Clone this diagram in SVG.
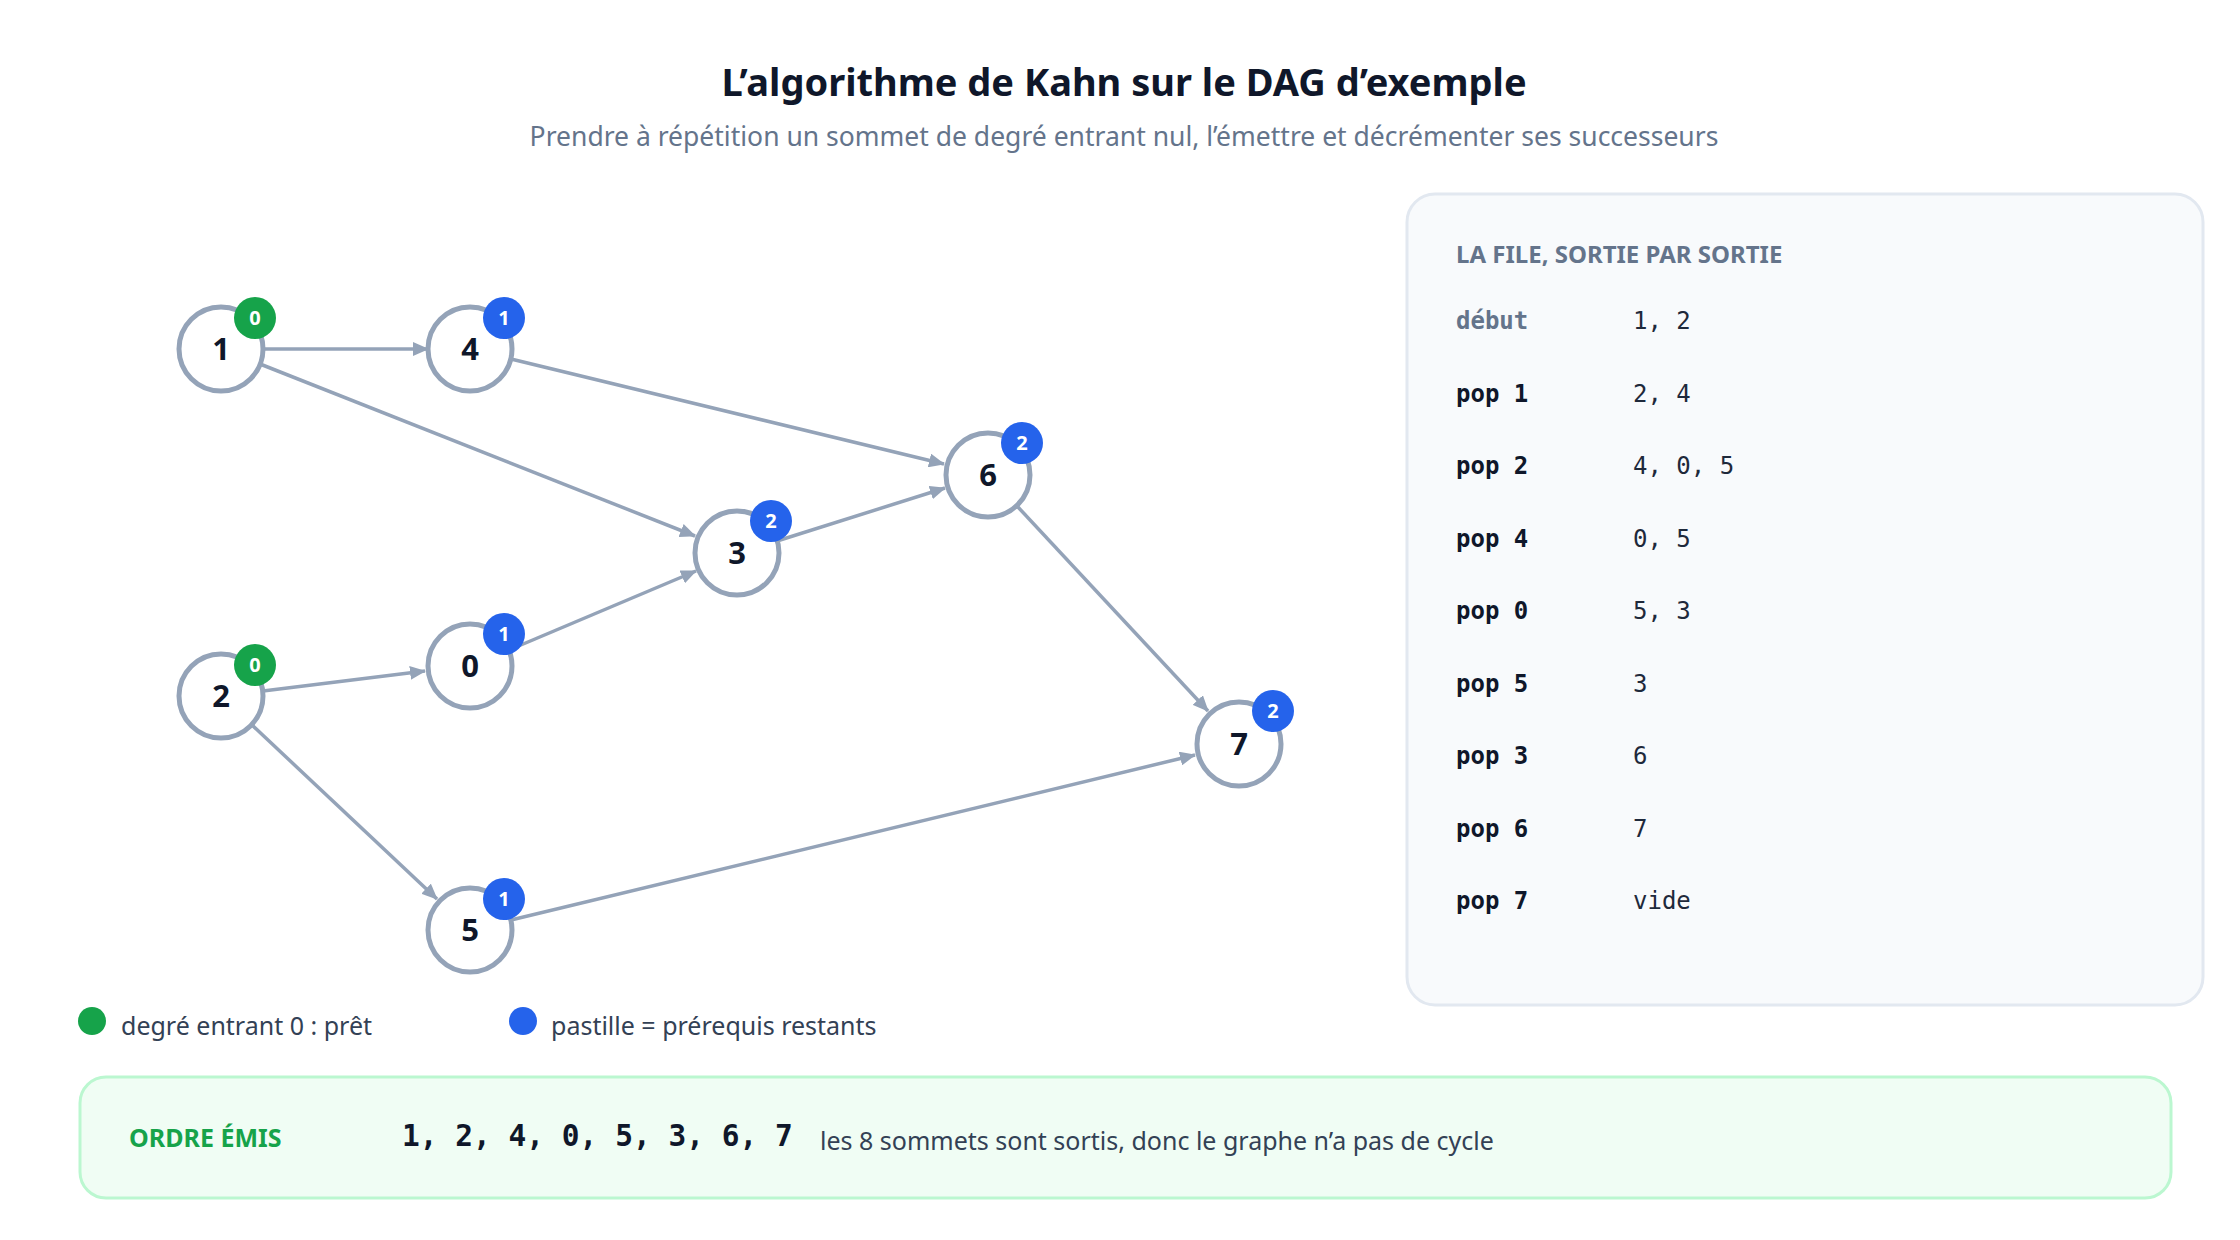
<svg xmlns="http://www.w3.org/2000/svg" width="2240" height="1240" viewBox="0 0 2240 1240">
<defs>
<marker id="ah" markerUnits="userSpaceOnUse" markerWidth="16" markerHeight="14" refX="15" refY="7" orient="auto"><path d="M0,0 L16,7 L0,14 Z" fill="#94a3b8"/></marker>
<style>
.t{font-family:"Noto Sans","Liberation Sans",sans-serif}
.e{stroke:#94a3b8;stroke-width:3.5;fill:none;marker-end:url(#ah)}
.n{fill:#fff;stroke:#94a3b8;stroke-width:5}
.nl{font-family:"Noto Sans","Liberation Sans",sans-serif;font-weight:700;font-size:31px;fill:#0f172a;text-anchor:middle}
.bl{font-family:"Noto Sans","Liberation Sans",sans-serif;font-weight:700;font-size:20px;fill:#fff;text-anchor:middle}
.m{font-family:"DejaVu Sans Mono","Liberation Mono",monospace;font-size:24px;fill:#1e293b}
.mb{font-family:"DejaVu Sans Mono","Liberation Mono",monospace;font-size:24px;font-weight:700;fill:#0f172a}
</style>
</defs>
<rect width="2240" height="1240" fill="#fff"/>
<text class="t" x="1124" y="96" text-anchor="middle" font-size="38" font-weight="700" fill="#0f172a">L’algorithme de Kahn sur le DAG d’exemple</text>
<text class="t" x="1124" y="146" text-anchor="middle" font-size="26.5" fill="#64748b">Prendre à répétition un sommet de degré entrant nul, l’émettre et décrémenter ses successeurs</text>
<g id="edges">
<path class="e" d="M263,349 L428,349"/>
<path class="e" d="M260,364 L695,536"/>
<path class="e" d="M511,359 L944,464"/>
<path class="e" d="M777,541 L945,488"/>
<path class="e" d="M263,691 L425,671"/>
<path class="e" d="M509,650 L696,571"/>
<path class="e" d="M252,725 L437,899"/>
<path class="e" d="M1017,506 L1208,711"/>
<path class="e" d="M511,920 L1195,755"/>
</g>
<g id="n1"><circle class="n" cx="221" cy="349" r="42"/><text class="nl" x="221" y="360">1</text><circle cx="255" cy="318" r="21" fill="#16a34a"/><text class="bl" x="255" y="325">0</text></g>
<g id="n4"><circle class="n" cx="470" cy="349" r="42"/><text class="nl" x="470" y="360">4</text><circle cx="504" cy="318" r="21" fill="#2563eb"/><text class="bl" x="504" y="325">1</text></g>
<g id="n6"><circle class="n" cx="988" cy="475" r="42"/><text class="nl" x="988" y="486">6</text><circle cx="1022" cy="443" r="21" fill="#2563eb"/><text class="bl" x="1022" y="450">2</text></g>
<g id="n3"><circle class="n" cx="737" cy="553" r="42"/><text class="nl" x="737" y="564">3</text><circle cx="771" cy="521" r="21" fill="#2563eb"/><text class="bl" x="771" y="528">2</text></g>
<g id="n2"><circle class="n" cx="221" cy="696" r="42"/><text class="nl" x="221" y="707">2</text><circle cx="255" cy="665" r="21" fill="#16a34a"/><text class="bl" x="255" y="672">0</text></g>
<g id="n0"><circle class="n" cx="470" cy="666" r="42"/><text class="nl" x="470" y="677">0</text><circle cx="504" cy="634" r="21" fill="#2563eb"/><text class="bl" x="504" y="641">1</text></g>
<g id="n7"><circle class="n" cx="1239" cy="744" r="42"/><text class="nl" x="1239" y="755">7</text><circle cx="1273" cy="711" r="21" fill="#2563eb"/><text class="bl" x="1273" y="718">2</text></g>
<g id="n5"><circle class="n" cx="470" cy="930" r="42"/><text class="nl" x="470" y="941">5</text><circle cx="504" cy="899" r="21" fill="#2563eb"/><text class="bl" x="504" y="906">1</text></g>
<g id="legend">
<circle cx="92" cy="1021" r="14" fill="#16a34a"/><text class="t" x="121" y="1035" font-size="25" fill="#334155">degré entrant 0 : prêt</text>
<circle cx="523" cy="1021" r="14" fill="#2563eb"/><text class="t" x="551" y="1035" font-size="25" fill="#334155">pastille = prérequis restants</text>
</g>
<g id="queue">
<rect x="1407" y="194" width="796" height="811" rx="28" fill="#f8fafc" stroke="#e2e8f0" stroke-width="3"/>
<text class="t" x="1456" y="263" font-size="24" font-weight="700" fill="#64748b">LA FILE, SORTIE PAR SORTIE</text>
<text class="m" x="1456" y="329" font-weight="700" style="fill:#64748b">début</text><text class="m" x="1633" y="329">1, 2</text>
<text class="mb" x="1456" y="402">pop 1</text><text class="m" x="1633" y="402">2, 4</text>
<text class="mb" x="1456" y="474">pop 2</text><text class="m" x="1633" y="474">4, 0, 5</text>
<text class="mb" x="1456" y="547">pop 4</text><text class="m" x="1633" y="547">0, 5</text>
<text class="mb" x="1456" y="619">pop 0</text><text class="m" x="1633" y="619">5, 3</text>
<text class="mb" x="1456" y="692">pop 5</text><text class="m" x="1633" y="692">3</text>
<text class="mb" x="1456" y="764">pop 3</text><text class="m" x="1633" y="764">6</text>
<text class="mb" x="1456" y="837">pop 6</text><text class="m" x="1633" y="837">7</text>
<text class="mb" x="1456" y="909">pop 7</text><text class="m" x="1633" y="909">vide</text>
</g>
<g id="order">
<rect x="80" y="1077" width="2091" height="121" rx="26" fill="#f0fdf4" stroke="#bbf7d0" stroke-width="3"/>
<text class="t" x="129" y="1147" font-size="25" font-weight="700" fill="#16a34a">ORDRE ÉMIS</text>
<text x="402" y="1146" font-family="DejaVu Sans Mono,Liberation Mono,monospace" font-size="29.5" font-weight="700" fill="#0f172a">1, 2, 4, 0, 5, 3, 6, 7</text>
<text class="t" x="820" y="1150" font-size="25" fill="#334155">les 8 sommets sont sortis, donc le graphe n’a pas de cycle</text>
</g>
</svg>
